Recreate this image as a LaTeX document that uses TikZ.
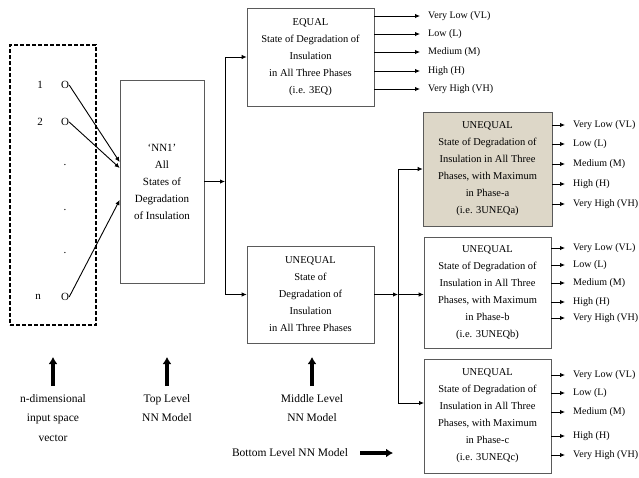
\documentclass[tikz,border=0pt]{standalone}
\usepackage{fontspec}
\setmainfont{Liberation Serif}
\usetikzlibrary{arrows.meta}
\definecolor{beige}{RGB}{221,215,200}
\definecolor{boxline}{RGB}{90,90,90}
\begin{document}
\begin{tikzpicture}[x=1pt,y=-1pt,
  box/.style={draw=boxline, line width=0.6pt, align=center, inner sep=0pt,
    font=\fontsize{10.5}{17}\selectfont},
  lab/.style={inner xsep=8pt, inner ysep=0pt, anchor=west, font=\fontsize{10}{12}\selectfont},
  txt/.style={align=center, inner sep=0pt, font=\fontsize{11.5}{19.5}\selectfont},
  arr/.style={-{Latex[length=5pt,width=4.5pt]}, line width=0.9pt},
  bigarr/.style={-{Latex[length=7pt,width=9pt]}, line width=3.2pt},
  inp/.style={inner sep=0pt, font=\fontsize{11}{12}\selectfont}]
\useasboundingbox (0,0) rectangle (639,477);
\fill[white] (0,0) rectangle (639,477);

% input vector
\node[draw, dashed, dash pattern=on 4pt off 2pt, line width=1.2pt,
  minimum width=86, minimum height=280, inner sep=0pt] (inbox) at (53,185) {};
\node[inp] (n1) at (40,85) {1};
\node[inp] (n2) at (40,122) {2};
\node[inp] (nn) at (38,297) {n};
\node[inp] (o1) at (65,85) {O};
\node[inp] (o2) at (65,122) {O};
\node[inp] (on) at (65,297) {O};
\node[inp] (d1) at (65,165) {.};
\node[inp] (d2) at (65,210) {.};
\node[inp] (d3) at (65,253) {.};

% boxes
\node[box, font=\fontsize{11}{17}\selectfont, minimum width=84, minimum height=203] (nn1) at (162,181.5)
  {`NN1'\\All\\States of\\Degradation\\of Insulation};
\node[box, minimum width=127, minimum height=98] (eq) at (310.5,57)
  {EQUAL\\State of Degradation of\\Insulation\\in All Three Phases\\(i.e. 3EQ)};
\node[box, minimum width=127, minimum height=97] (uq) at (310.5,294.5)
  {UNEQUAL\\State of\\Degradation of\\Insulation\\in All Three Phases};
\node[box, fill=beige, minimum width=129, minimum height=114] (ua) at (487.5,169)
  {UNEQUAL\\State of Degradation of\\Insulation in All Three\\Phases, with Maximum\\in Phase-a\\(i.e. 3UNEQa)};
\node[box, minimum width=127, minimum height=111] (ub) at (487.5,292.5)
  {UNEQUAL\\State of Degradation of\\Insulation in All Three\\Phases, with Maximum\\in Phase-b\\(i.e. 3UNEQb)};
\node[box, minimum width=127, minimum height=114] (uc) at (487.5,416)
  {UNEQUAL\\State of Degradation of\\Insulation in All Three\\Phases, with Maximum\\in Phase-c\\(i.e. 3UNEQc)};

% inputs to NN1
\draw[arr] (o1.east) -- ([yshift=19.5pt]nn1.west);
\draw[arr] (o2.east) -- ([yshift=13.5pt]nn1.west);
\draw[arr] (on.east) -- ([yshift=-18.5pt]nn1.west);

% NN1 split
\coordinate (s1) at (225,182);
\draw[arr] (nn1.east) -- (nn1.east -| s1);
\draw[line width=0.9pt] (s1 |- eq.west) -- (s1 |- uq.west);
\draw[arr] (s1 |- eq.west) -- (eq.west);
\draw[arr] (s1 |- uq.west) -- (uq.west);

% middle split
\coordinate (s2) at (398,294);
\coordinate (cin) at (424,403);
\draw[arr] (uq.east) -- (uq.east -| s2);
\draw[arr] (uq.east -| s2) -- (ub.west |- uq.east);
\draw[line width=0.9pt] (s2 |- ua.west) -- (s2 |- cin);
\draw[arr] (s2 |- ua.west) -- (ua.west);
\draw[arr] (s2 |- cin) -- (cin);

% outputs
\foreach \i/\y/\t in {1/16/Very Low (VL),2/34/Low (L),3/52/Medium (M),4/71/High (H),5/89/Very High (VH)}{
  \node[lab] (eqo\i) at (420,\y) {\t};
  \draw[arr] (eq.east |- eqo\i.west) -- (eqo\i.west);
}
\foreach \i/\y/\t in {1/125/Very Low (VL),2/144/Low (L),3/164/Medium (M),4/184/High (H),5/204/Very High (VH)}{
  \node[lab] (uao\i) at (565,\y) {\t};
  \draw[arr] (ua.east |- uao\i.west) -- (uao\i.west);
}
\foreach \i/\y/\t in {1/248/Very Low (VL),2/265/Low (L),3/283/Medium (M),4/302/High (H),5/318/Very High (VH)}{
  \node[lab] (ubo\i) at (565,\y) {\t};
  \draw[arr] (ub.east |- ubo\i.west) -- (ubo\i.west);
}
\foreach \i/\y/\t in {1/375/Very Low (VL),2/393/Low (L),3/412/Medium (M),4/436/High (H),5/455/Very High (VH)}{
  \node[lab] (uco\i) at (565,\y) {\t};
  \draw[arr] (uc.east |- uco\i.west) -- (uco\i.west);
}

% bottom labels
\node[txt, anchor=north] (l1) at (53,394) {n-dimensional\\input space\\vector};
\node[txt, anchor=north] (l2) at (167,394) {Top Level\\NN Model};
\node[txt, anchor=north] (l3) at (312,394) {Middle Level\\NN Model};
\node[txt] (l4) at (290,453) {Bottom Level NN Model};
\coordinate (a1) at (53,357);
\coordinate (a2) at (167,357);
\coordinate (a3) at (312,357);
\coordinate (a4) at (393,453);
\draw[bigarr] (53,386) -- (a1);
\draw[bigarr] (167,386) -- (a2);
\draw[bigarr] (312,386) -- (a3);
\draw[bigarr] ([xshift=12pt]l4.east) -- (a4);
\end{tikzpicture}
\end{document}
